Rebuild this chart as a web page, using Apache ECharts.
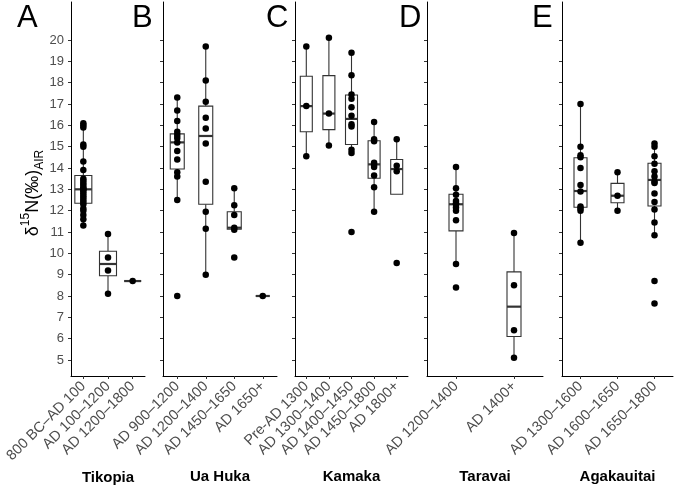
<!DOCTYPE html>
<html>
<head>
<meta charset="utf-8">
<script src="https://cdn.jsdelivr.net/npm/echarts@6/dist/echarts.min.js"></script>
<style>
html,body{margin:0;padding:0;background:#fff;}
#chart{width:677px;height:486px;}
</style>
</head>
<body>
<div id="chart"></div>
<script>
const yTicks = [5,6,7,8,9,10,11,12,13,14,15,16,17,18,19,20];
const sites = ['Tikopia','Ua Huka','Kamaka','Taravai','Agakauitai'];
const panelLetters = ['A','B','C','D','E'];

const tikopiaCats = ['800 BC–AD 100','AD 100–1200','AD 1200–1800'];
const tikopiaPoints = [
  [16.1,16.0,15.9,15.1,15.0,14.3,13.9,13.5,13.4,13.3,13.2,13.1,13.0,13.0,12.9,12.8,12.7,12.6,12.5,12.4,12.3,12.1,12.0,11.8,11.6,11.3],
  [10.9,9.8,9.2,8.1],
  [8.7]
];
const tikopiaBoxes = [[11.3,12.35,13.0,13.65,16.1],[8.1,8.95,9.5,10.1,10.9],[8.7,8.7,8.7,8.7,8.7]];

const uaHukaCats = ['AD 900–1200','AD 1200–1400','AD 1450–1650','AD 1650+'];
const uaHukaPoints = [
  [17.3,16.7,16.2,15.7,15.55,15.4,15.2,14.8,14.4,13.8,13.6,12.5,8.0],
  [19.7,18.1,17.1,16.35,15.85,15.15,13.35,11.95,11.15,9.0],
  [13.05,12.25,11.8,11.2,11.1,9.8],
  [8.0]
];
const uaHukaBoxes = [[12.5,13.95,15.2,15.6,17.3],[9.0,12.3,15.5,16.9,19.7],[11.1,11.13,11.2,11.95,13.05],[8.0,8.0,8.0,8.0,8.0]];

const kamakaCats = ['Pre-AD 1300','AD 1300–1400','AD 1400–1450','AD 1450–1800','AD 1800+'];
const kamakaPoints = [
  [19.7,16.9,14.55],
  [20.1,16.55,15.05],
  [19.4,18.35,17.45,17.25,16.85,16.45,16.05,15.95,14.85,14.7,11.0],
  [16.15,15.35,15.25,14.25,14.15,14.05,13.65,13.1,11.95],
  [15.35,14.1,13.85,9.55]
];
const kamakaBoxes = [[14.55,15.7,16.9,18.3,19.7],[15.05,15.8,16.55,18.33,20.1],[14.75,15.1,16.3,17.42,19.4],[11.95,13.52,14.17,15.28,16.15],[12.77,12.77,13.95,14.4,15.35]];

const taravaiCats = ['AD 1200–1400','AD 1400+'];
const taravaiPoints = [
  [14.05,13.05,12.75,12.45,12.35,12.3,12.15,12.0,11.55,9.5,8.4],
  [10.95,8.5,6.4,5.1]
];
const taravaiBoxes = [[9.5,11.05,12.3,12.77,14.05],[5.1,6.1,7.5,9.13,10.95]];

const agakauitaiCats = ['AD 1300–1600','AD 1600–1650','AD 1650–1800'];
const agakauitaiPoints = [
  [17.0,15.0,14.6,14.5,14.0,13.2,12.9,12.2,12.1,12.0,10.5],
  [13.8,12.7,12.0],
  [15.15,15.0,14.55,14.2,13.85,13.6,13.35,13.3,12.8,12.4,12.05,11.45,10.85,8.7,7.65]
];
const agakauitaiBoxes = [[10.5,12.16,12.92,14.48,17.0],[12.0,12.37,12.7,13.28,13.8],[10.85,12.22,13.44,14.22,15.15]];

const panels = [
  {cats: tikopiaCats, points: tikopiaPoints, boxes: tikopiaBoxes},
  {cats: uaHukaCats, points: uaHukaPoints, boxes: uaHukaBoxes},
  {cats: kamakaCats, points: kamakaPoints, boxes: kamakaBoxes},
  {cats: taravaiCats, points: taravaiPoints, boxes: taravaiBoxes},
  {cats: agakauitaiCats, points: agakauitaiPoints, boxes: agakauitaiBoxes}
];

// layout (pixels)
const gridLefts = [71,163,295,427,562];
const gridWidths = [74,114,113,116,111];
const boxHalfWidths = [8.5,7,6,7,6.5];
const letterLefts = [17,132,266,399,532];

const FONT = 'Liberation Sans, Arial, Helvetica, sans-serif';

function makeBoxRender(halfW){
  return function(params, api){
    const x = api.value(0);
    const pMin = api.coord([x, api.value(1)]);
    const pQ1 = api.coord([x, api.value(2)]);
    const pMed = api.coord([x, api.value(3)]);
    const pQ3 = api.coord([x, api.value(4)]);
    const pMax = api.coord([x, api.value(5)]);
    const cx = pMin[0];
    const ls = {stroke:'#333', lineWidth:1.1};
    return {type:'group', children:[
      {type:'line', shape:{x1:cx,y1:pMax[1],x2:cx,y2:pQ3[1]}, style:ls},
      {type:'line', shape:{x1:cx,y1:pQ1[1],x2:cx,y2:pMin[1]}, style:ls},
      {type:'rect', shape:{x:cx-halfW,y:pQ3[1],width:2*halfW,height:pQ1[1]-pQ3[1]}, style:{fill:'#fff',stroke:'#333',lineWidth:1.1}},
      {type:'line', shape:{x1:cx-halfW,y1:pMed[1],x2:cx+halfW,y2:pMed[1]}, style:{stroke:'#333',lineWidth:2.2}}
    ]};
  };
}

const grids = panels.map((p,i)=>({left:gridLefts[i], width:gridWidths[i], top:2, height:374, containLabel:false, outerBoundsMode:'none'}));

const xAxes = panels.map((p,i)=>({
  type:'category', gridIndex:i, data:p.cats, boundaryGap:true,
  axisLine:{show:true, lineStyle:{color:'#000', width:1}},
  axisTick:{show:true, alignWithLabel:true, length:3, lineStyle:{color:'#333'}},
  axisLabel:{rotate:45, fontSize:14.5, color:'#4d4d4d', margin:8, interval:0, fontFamily:FONT},
  splitLine:{show:false},
  name:sites[i], nameLocation:'middle', nameGap:93,
  nameTextStyle:{fontSize:15, fontWeight:'bold', color:'#000', fontFamily:FONT}
}));

const yAxes = panels.map((p,i)=>{
  const ax = {
    type:'value', gridIndex:i, min:4.25, max:21.78,
    axisLine:{show:true, lineStyle:{color:'#000', width:1}},
    axisTick:{show:true, length:3, customValues:yTicks, lineStyle:{color:'#333'}},
    axisLabel:{show:i===0, customValues:yTicks, fontSize:13, color:'#4d4d4d', margin:7, fontFamily:FONT},
    splitLine:{show:false}
  };
  if(i===0){
    ax.name = '{g|δ}{sup|15}{g|N(‰)}{sub|AIR}{pad|}';
    ax.nameLocation = 'middle';
    ax.nameGap = 20;
    ax.nameRotate = 90;
    ax.nameTextStyle = {color:'#000', fontFamily:FONT, rich:{
      g:{fontSize:18, color:'#000', fontFamily:FONT, lineHeight:26, verticalAlign:'middle'},
      sup:{fontSize:12, color:'#000', fontFamily:FONT, lineHeight:26, verticalAlign:'top'},
      sub:{fontSize:12, color:'#000', fontFamily:FONT, lineHeight:26, verticalAlign:'bottom'},
      pad:{width:8, lineHeight:26}
    }};
  }
  return ax;
});

const series = [];
panels.forEach((p,i)=>{
  series.push({
    type:'custom', xAxisIndex:i, yAxisIndex:i, z:2,
    renderItem: makeBoxRender(boxHalfWidths[i]),
    encode:{x:0, y:[1,2,3,4,5]},
    data: p.boxes.map((b,j)=>[j].concat(b)),
    silent:true
  });
  const pts = [];
  p.points.forEach((arr,j)=>arr.forEach(v=>pts.push([j,v])));
  series.push({
    type:'scatter', xAxisIndex:i, yAxisIndex:i, z:3,
    symbol:'circle', symbolSize:6.5,
    itemStyle:{color:'#000', opacity:1},
    data: pts, silent:true
  });
});

const titles = panelLetters.map((l,i)=>({
  text:l, left:letterLefts[i], top:3, padding:0,
  textStyle:{fontSize:31, fontWeight:'normal', color:'#000', fontFamily:FONT}
}));

const chart = echarts.init(document.getElementById('chart'), null, {renderer:'canvas'});
chart.setOption({
  animation:false,
  backgroundColor:'#fff',
  textStyle:{fontFamily:FONT},
  title:titles,
  grid:grids,
  xAxis:xAxes,
  yAxis:yAxes,
  series:series
});
</script>
</body>
</html>
